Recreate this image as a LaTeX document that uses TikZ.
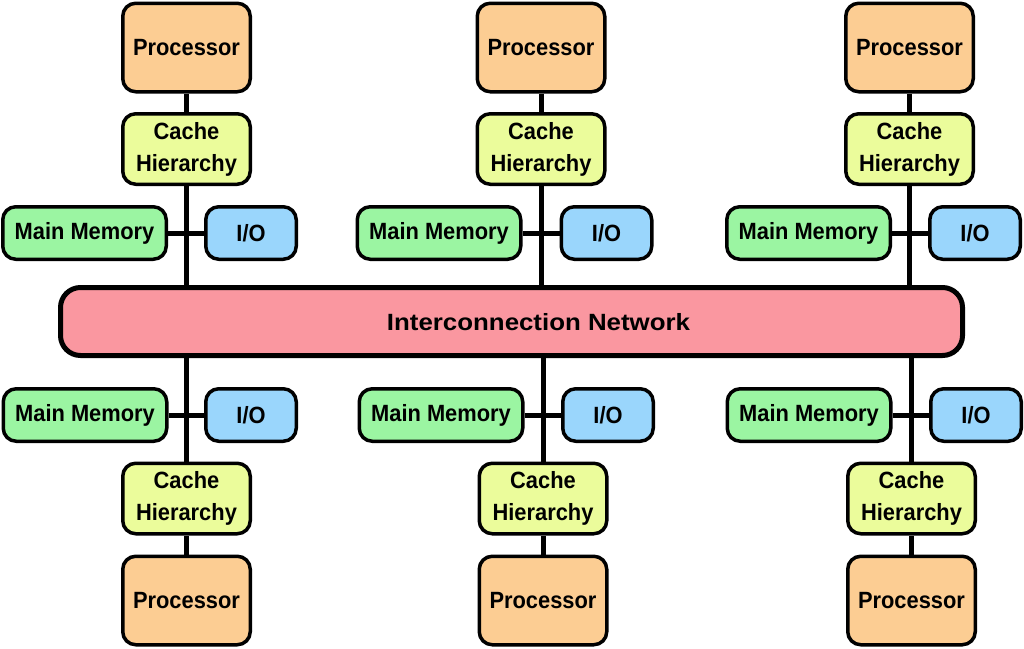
\documentclass[tikz,border=0pt]{standalone}
\usepackage{fontspec}
\setmainfont{Liberation Sans}
\newfontfamily\lblfont{Liberation Sans}[FakeStretch=0.93]
\usetikzlibrary{backgrounds}
\definecolor{proccol}{HTML}{FCCD93}
\definecolor{cachecol}{HTML}{EBFC9B}
\definecolor{memcol}{HTML}{9BF5A2}
\definecolor{iocol}{HTML}{9AD6FC}
\definecolor{netcol}{HTML}{FA97A0}
\begin{document}
\begin{tikzpicture}[x=1pt,y=-1pt,
  box/.style={draw=black, line width=3.5pt, rounded corners=13pt, inner sep=0pt, align=center,
              font=\lblfont\fontsize{23.5}{32}\selectfont\bfseries},
  procbox/.style={box, fill=proccol, minimum width=127.5pt, minimum height=88.5pt},
  cachebox/.style={box, fill=cachecol, minimum width=127.5pt, minimum height=70.5pt},
  membox/.style={box, fill=memcol, minimum width=163.5pt, minimum height=52.5pt},
  iobox/.style={box, fill=iocol, minimum width=90.5pt, minimum height=52.5pt},
  netbox/.style={draw=black, line width=5pt, rounded corners=20pt, fill=netcol, inner sep=0pt,
              minimum width=902pt, minimum height=68pt},
  netlabel/.style={inner sep=0pt, font=\fontsize{23.5}{28}\selectfont\bfseries},
  wire/.style={draw=black, line width=5pt}]
\useasboundingbox (0,0) rectangle (1024,648);

% network
\node[netbox] (net) at (511.5,321.5) {};
\node[netlabel] (netl) at (538.5,322) {\scalebox{1.1}[1]{Interconnection Network}};

% top units
\node[procbox] (P1) at (186.5,47.5) {Processor};
\node[procbox] (P2) at (541,47.5) {Processor};
\node[procbox] (P3) at (909.5,47.5) {Processor};
\node[cachebox] (C1) at (186.5,149) {Cache\\Hierarchy};
\node[cachebox] (C2) at (541,149) {Cache\\Hierarchy};
\node[cachebox] (C3) at (909.5,149) {Cache\\Hierarchy};
\node[membox] (M1) at (84.5,233) {Main Memory};
\node[membox] (M2) at (439,233) {Main Memory};
\node[membox] (M3) at (808.5,233) {Main Memory};
\node[iobox] (I1) at (251,233) {I/O};
\node[iobox] (I2) at (606.5,233) {I/O};
\node[iobox] (I3) at (975,233) {I/O};

% bottom units
\node[membox] (M4) at (85,415) {Main Memory};
\node[membox] (M5) at (441,415) {Main Memory};
\node[membox] (M6) at (809,415) {Main Memory};
\node[iobox] (I4) at (251,415) {I/O};
\node[iobox] (I5) at (608,415) {I/O};
\node[iobox] (I6) at (976,415) {I/O};
\node[cachebox] (C4) at (186.5,498.5) {Cache\\Hierarchy};
\node[cachebox] (C5) at (543,498.5) {Cache\\Hierarchy};
\node[cachebox] (C6) at (911.5,498.5) {Cache\\Hierarchy};
\node[procbox] (P4) at (186.5,600.5) {Processor};
\node[procbox] (P5) at (543,600.5) {Processor};
\node[procbox] (P6) at (911.5,600.5) {Processor};

\begin{pgfonlayer}{background}
  \foreach \p/\c in {P1/C1,P2/C2,P3/C3}{
    \draw[wire] (\p.south) -- (\c.north);
    \draw[wire] (\c.south) -- (\c.south |- net.north);
  }
  \foreach \p/\c in {P4/C4,P5/C5,P6/C6}{
    \draw[wire] (\p.north) -- (\c.south);
    \draw[wire] (\c.north) -- (\c.north |- net.south);
  }
  \foreach \m/\i in {M1/I1,M2/I2,M3/I3,M4/I4,M5/I5,M6/I6}{
    \draw[wire] (\m.east) -- (\i.west);
  }
\end{pgfonlayer}
\end{tikzpicture}
\end{document}
